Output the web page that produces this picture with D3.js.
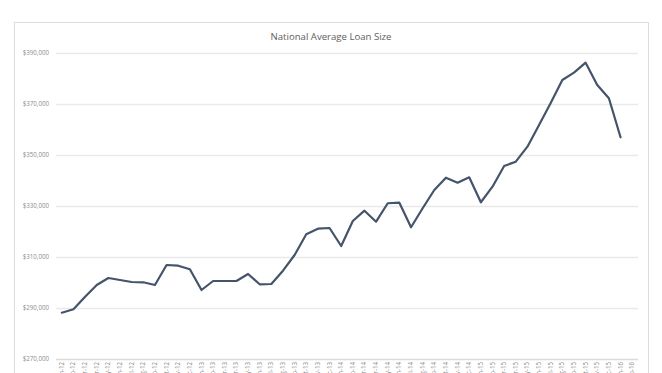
<!DOCTYPE html>
<html>
<head>
<meta charset="utf-8">
<script src="https://cdn.jsdelivr.net/npm/d3@7"></script>
<style>
  body { margin: 0; background: #fff; }
  svg { display: block; }
</style>
</head>
<body>
<div id="chart"></div>
<script>
const months = ['Jan', 'Feb', 'Mar', 'Apr', 'May', 'Jun', 'Jul', 'Aug', 'Sep', 'Oct', 'Nov', 'Dec'];
const years = ['12', '13', '14', '15', '16'];

// Jan-12 .. Feb-16, one label per month
const periods = [];
for (let y of years) {
  for (let m of months) {
    if (periods.length < 50) periods.push(m + '-' + y);
  }
}

// average loan size (last month has no value)
const loanSize = [
  288160, 289490, 294430, 299020, 301770, 300980, 300200, 300080, 299020, 306870,
  306590, 305180, 297060, 300590, 300590, 300590, 303340, 299300, 299420, 304630,
  310790, 318910, 321100, 321380, 314320, 324120, 328160, 323850, 331070, 331300,
  321650, 329100, 336280, 341110, 339150, 341260, 331460, 337580, 345700, 347380,
  353260, 361770, 370400, 379420, 382290, 386210, 377460, 372250, 356950
];

const yTicks = [270000, 290000, 310000, 330000, 350000, 370000, 390000];

const width = 662;
const height = 373;
const margin = {top: 53, right: 24, bottom: 14, left: 56};

const svg = d3.select('#chart').append('svg')
  .attr('width', width)
  .attr('height', height);

// chart frame
svg.append('rect')
  .attr('x', 14.5)
  .attr('y', 22.5)
  .attr('width', 634)
  .attr('height', 380)
  .attr('fill', 'none')
  .attr('stroke', '#dcdcdc');

const x = d3.scaleBand()
  .domain(periods)
  .range([margin.left, width - margin.right]);

const y = d3.scaleLinear()
  .domain([270000, 390000])
  .range([height - margin.bottom, margin.top]);

const fmt = d3.format('$,');

// gridlines
svg.append('g')
  .selectAll('line')
  .data(yTicks)
  .enter()
  .append('line')
  .attr('x1', margin.left)
  .attr('x2', width - margin.right)
  .attr('y1', function(d) { return Math.round(y(d)) + 0.5; })
  .attr('y2', function(d) { return Math.round(y(d)) + 0.5; })
  .attr('stroke', function(d) { return d === 270000 ? '#dadada' : '#e9e9e9'; })
  .attr('stroke-width', 1.3);

// y labels
svg.append('g')
  .selectAll('text')
  .data(yTicks)
  .enter()
  .append('text')
  .attr('x', 49)
  .attr('y', function(d) { return y(d); })
  .attr('dy', '0.35em')
  .attr('text-anchor', 'end')
  .attr('font-family', 'Open Sans, sans-serif')
  .attr('font-size', 6.2)
  .attr('fill', '#8c8c8c')
  .text(fmt);

// x labels, rotated, mostly cut off by the window
svg.append('g')
  .selectAll('text')
  .data(periods)
  .enter()
  .append('text')
  .attr('transform', function(d) {
    return 'translate(' + (x(d) + x.bandwidth() / 2 + 2) + ',' + (height - 11) + ') rotate(-90)';
  })
  .attr('text-anchor', 'end')
  .attr('font-family', 'Open Sans, sans-serif')
  .attr('font-size', 6.2)
  .attr('fill', '#8c8c8c')
  .text(function(d) { return d; });

// title
svg.append('text')
  .attr('x', 331)
  .attr('y', 40)
  .attr('text-anchor', 'middle')
  .attr('font-family', 'Open Sans, sans-serif')
  .attr('font-size', 9.6)
  .attr('fill', '#5e5e5e')
  .text('National Average Loan Size');

const line = d3.line()
  .x(function(d, i) { return x(periods[i]) + x.bandwidth() / 2; })
  .y(function(d) { return y(d); });

svg.append('path')
  .datum(loanSize)
  .attr('d', line)
  .attr('fill', 'none')
  .attr('stroke', '#44546a')
  .attr('stroke-width', 2.2)
  .attr('stroke-linejoin', 'round')
  .attr('stroke-linecap', 'round');
</script>
</body>
</html>
